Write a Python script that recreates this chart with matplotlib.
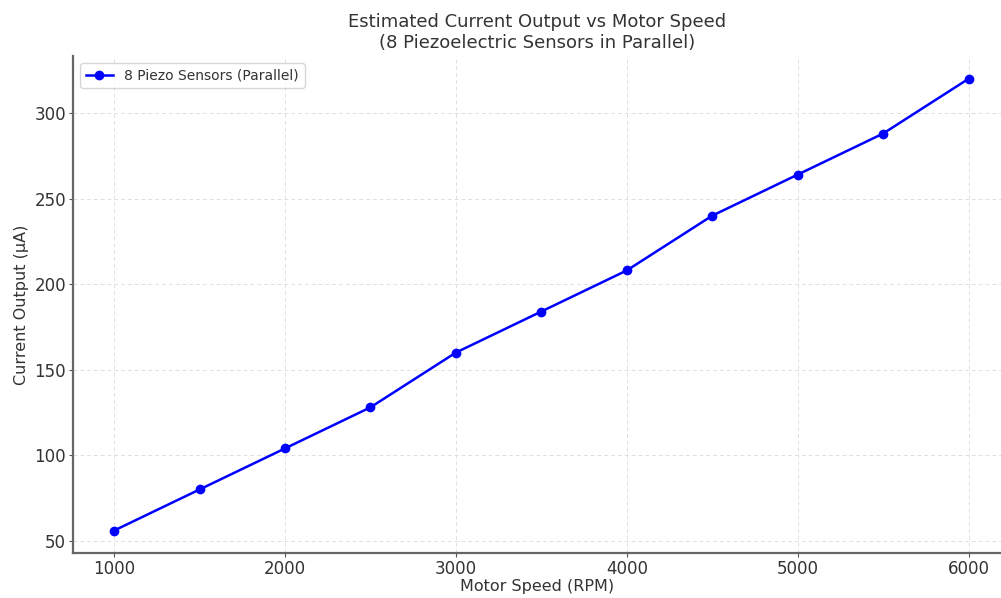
import matplotlib.pyplot as plt

speed_rpm = [1000, 1500, 2000, 2500, 3000, 3500, 4000, 4500, 5000, 5500, 6000]
current_ua = [56, 80, 104, 128, 160, 184, 208, 240, 264, 288, 320]

fig = plt.figure(figsize=(10.01, 5.98), dpi=100)
ax = fig.add_axes([0.073, 0.075, 0.927, 0.831])

ax.plot(speed_rpm, current_ua, color='blue', marker='o', markersize=6, linewidth=1.8,
        label='8 Piezo Sensors (Parallel)')

ax.set_xlim(760, 6190)
ax.set_ylim(42.8, 333.2)
ax.set_xticks([1000, 2000, 3000, 4000, 5000, 6000])
ax.set_yticks([50, 100, 150, 200, 250, 300])

ax.grid(True, linestyle=(0, (4, 3)), color='#e0e0e0', linewidth=0.7)
for s in ['top', 'right']:
    ax.spines[s].set_visible(False)
for s in ['left', 'bottom']:
    ax.spines[s].set_color('#666666')
    ax.spines[s].set_linewidth(1.6)
ax.tick_params(colors='#555555', labelsize=12, length=3, pad=2)
ax.tick_params(axis='both', labelcolor='#333333')

ax.set_title('Estimated Current Output vs Motor Speed\n(8 Piezoelectric Sensors in Parallel)',
             fontsize=13, color='#333333', pad=6)
ax.set_xlabel('Motor Speed (RPM)', fontsize=11.5, color='#333333', labelpad=1)
ax.set_ylabel('Current Output (µA)', fontsize=11.5, color='#333333', labelpad=4)
ax.legend(loc='upper left', fontsize=10, labelcolor='#333333')

fig.savefig('out.png', dpi=100)
